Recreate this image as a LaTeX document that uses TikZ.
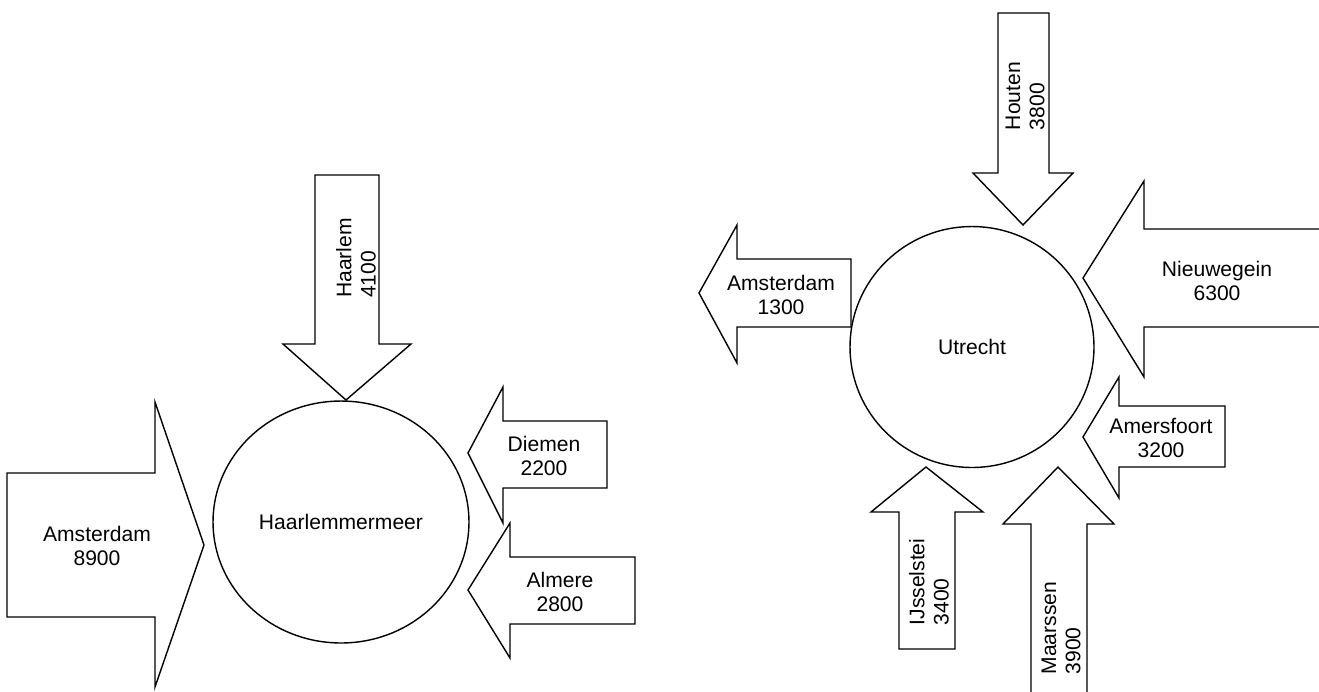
\documentclass[tikz,border=0pt]{standalone}
\usepackage{fontspec}
\setmainfont{Liberation Sans}
\usetikzlibrary{shapes.geometric}

\begin{document}
\begin{tikzpicture}[x=0.02cm, y=-0.02cm,
    blockarrow/.style={draw=black, line width=0.8pt, line join=miter, fill=white},
    placenode/.style={ellipse, draw=black, line width=0.8pt, fill=white, inner sep=0pt, font=\fontsize{12}{13.8}\selectfont},
    flowlabel/.style={align=center, inner sep=0pt, font=\fontsize{12}{13.8}\selectfont},
    flowlabelup/.style={align=left, inner sep=0pt, rotate=90, font=\fontsize{12}{13.8}\selectfont},]
    \useasboundingbox (0,0) rectangle (1319,691);
    % Haarlemmermeer: arrows
    \draw[blockarrow] (315,175) -- (379,175) -- (379,344) -- (411,344) -- (346,400) -- (283,344) -- (315,344) -- cycle;
    \draw[blockarrow] (7,473) -- (155,473) -- (155,402) -- (204,545) -- (155,687) -- (155,617) -- (7,617) -- cycle;
    \draw[blockarrow] (607,421) -- (503,421) -- (503,387) -- (468,453) -- (503,523) -- (503,488) -- (607,488) -- cycle;
    \draw[blockarrow] (635,557) -- (510,557) -- (510,523) -- (468,590) -- (510,658) -- (510,624) -- (635,624) -- cycle;
    % Utrecht: arrows
    \draw[blockarrow] (998,13) -- (1049,13) -- (1049,173) -- (1073,173) -- (1023,225) -- (973,173) -- (998,173) -- cycle;
    \draw[blockarrow] (851,259) -- (737,259) -- (737,225) -- (699,293) -- (737,363) -- (737,327) -- (851,327) -- cycle;
    \draw[blockarrow] (1325,229) -- (1144,229) -- (1144,181) -- (1083,278) -- (1144,377) -- (1144,327) -- (1325,327) -- cycle;
    \draw[blockarrow] (1225,406) -- (1119,406) -- (1119,377) -- (1083,437) -- (1119,498) -- (1119,467) -- (1225,467) -- cycle;
    \draw[blockarrow] (899,649) -- (899,512) -- (871,512) -- (926,467) -- (983,512) -- (955,512) -- (955,649) -- cycle;
    \draw[blockarrow] (1031,700) -- (1031,524) -- (1003,524) -- (1058,467) -- (1114,524) -- (1087,524) -- (1087,700) -- cycle;
    % places
    \node[placenode, minimum width=5.12cm, minimum height=4.84cm] (haarlemmermeer) at (341,522) {Haarlemmermeer};
    \node[placenode, minimum width=4.88cm, minimum height=4.82cm] (utrecht) at (972,347) {Utrecht};
    % labels
    \node[flowlabelup] (haarlem)    at (356,258)  {Haarlem\\4100};
    \node[flowlabel]   (amsterdamA) at (97,546)   {Amsterdam\\8900};
    \node[flowlabel]   (diemen)     at (544,456)  {Diemen\\2200};
    \node[flowlabel]   (almere)     at (560,592)  {Almere\\2800};
    \node[flowlabelup] (houten)     at (1025,96)  {Houten\\3800};
    \node[flowlabel]   (amsterdamB) at (781,295)  {Amsterdam\\1300};
    \node[flowlabel]   (nieuwegein) at (1217,281) {Nieuwegein\\6300};
    \node[flowlabel]   (amersfoort) at (1161,438) {Amersfoort\\3200};
    \node[flowlabelup] (ijsselstei) at (929,582)  {IJsselstei\\3400};
    \node[flowlabelup] (maarssen)   at (1061,628) {Maarssen\\3900};
\end{tikzpicture}
\end{document}
